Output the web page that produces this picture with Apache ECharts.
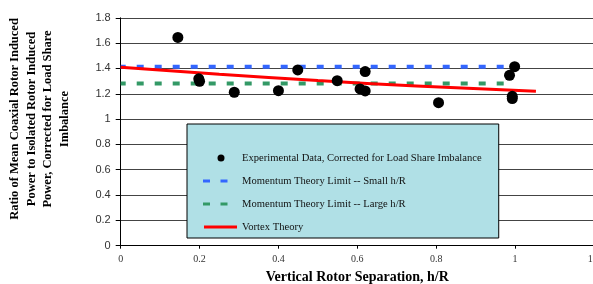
<!DOCTYPE html>
<html>
<head>
<meta charset="utf-8">
<script src="https://cdn.jsdelivr.net/npm/echarts@6/dist/echarts.min.js"></script>
<style>
  html, body { margin: 0; padding: 0; background: #fff; }
</style>
</head>
<body>
<div id="chart" style="width: 593px; height: 284px;"></div>
<script>
// experimental points (h/R, power ratio)
const expX = [0.145, 0.198, 0.2, 0.288, 0.40, 0.449, 0.549, 0.607, 0.62, 0.62, 0.806, 0.986, 0.999, 0.993, 0.993];
const expY = [1.645, 1.318, 1.298, 1.212, 1.224, 1.388, 1.303, 1.238, 1.222, 1.375, 1.13, 1.346, 1.414, 1.18, 1.162];

// momentum theory limits
const limitX = [0, 0.987];
const smallLimit = [1.414, 1.414];
const largeLimit = [1.281, 1.281];

// vortex theory curve
const vortexX = [0, 0.25, 0.5, 0.75, 1.053];
const vortexY = [1.41, 1.355, 1.305, 1.262, 1.22];

const names = [
  'Experimental Data, Corrected for Load Share Imbalance',
  'Momentum Theory Limit -- Small h/R',
  'Momentum Theory Limit -- Large h/R',
  'Vortex Theory'
];

const serif = '"Liberation Serif", "DejaVu Serif", serif';

const zip = (xs, ys) => xs.map((x, i) => [x, ys[i]]);

// legend icons span 34x7 (moveTo corners keep the box size)
const dashIcon = 'path://M0,0M34,7M0,2H7V5H0ZM17.5,2H24.5V5H17.5Z';
const lineIcon = 'path://M0,0M34,7M1,2H34V5H1Z';
const dotIcon = 'path://M0,0M34,7M14.5,3.5A3.5,3.5,0,1,1,21.5,3.5A3.5,3.5,0,1,1,14.5,3.5Z';

const myChart = echarts.init(document.getElementById('chart'));

const option = {
  animation: false,
  grid: {
    left: 120.7,
    top: 17.8,
    width: 473.2,
    height: 227.9,
    containLabel: false,
    outerBoundsMode: 'none'
  },
  xAxis: {
    type: 'value',
    min: 0,
    max: 1.2,
    interval: 0.2,
    name: 'Vertical Rotor Separation, h/R',
    nameLocation: 'middle',
    nameGap: 25,
    nameTextStyle: {
      fontFamily: serif,
      fontWeight: 'bold',
      fontSize: 14,
      color: '#000'
    },
    axisLine: { onZero: false, lineStyle: { color: '#000', width: 1 } },
    axisTick: { length: 3, lineStyle: { color: '#000' } },
    axisLabel: {
      fontFamily: serif,
      fontSize: 10,
      color: '#333',
      margin: 9
    },
    splitLine: { show: false }
  },
  yAxis: {
    type: 'value',
    min: 0,
    max: 1.8,
    interval: 0.2,
    axisLine: { show: true, lineStyle: { color: '#000', width: 1 } },
    axisTick: { show: true, length: 5, lineStyle: { color: '#000' } },
    axisLabel: {
      fontFamily: '"Liberation Sans", Arial, sans-serif',
      fontSize: 11,
      color: '#333',
      margin: 10
    },
    splitLine: { show: true, lineStyle: { color: '#444', width: 1 } }
  },
  legend: {
    left: 187,
    top: 124,
    orient: 'vertical',
    backgroundColor: '#b0e0e6',
    borderColor: '#000',
    borderWidth: 1,
    borderRadius: 0,
    padding: [27, 17, 4, 16],
    itemGap: 9,
    itemWidth: 34,
    itemHeight: 7,
    itemStyle: { borderWidth: 0 },
    textStyle: {
      fontFamily: serif,
      fontSize: 10.6,
      color: '#111',
      lineHeight: 14
    },
    data: [
      { name: names[0], icon: dotIcon },
      { name: names[1], icon: dashIcon },
      { name: names[2], icon: dashIcon },
      { name: names[3], icon: lineIcon }
    ]
  },
  graphic: [
    {
      type: 'text',
      x: 40,
      y: 119,
      rotation: Math.PI / 2,
      style: {
        text: 'Ratio of Mean Coaxial Rotor Induced\nPower to Isolated Rotor Induced\nPower, Corrected for Load Share\nImbalance',
        font: 'bold 12.5px ' + serif,
        fill: '#000',
        align: 'center',
        verticalAlign: 'middle',
        lineHeight: 16.5
      }
    }
  ],
  series: [
    {
      name: names[1],
      type: 'line',
      data: zip(limitX, smallLimit),
      symbol: 'none',
      color: '#3366ff',
      lineStyle: { color: '#3366ff', width: 4, type: [7, 11], dashOffset: 2 },
      z: 3
    },
    {
      name: names[2],
      type: 'line',
      data: zip(limitX, largeLimit),
      symbol: 'none',
      color: '#339966',
      lineStyle: { color: '#339966', width: 4, type: [7, 11], dashOffset: 2 },
      z: 3
    },
    {
      name: names[3],
      type: 'line',
      data: zip(vortexX, vortexY),
      smooth: true,
      symbol: 'none',
      color: '#ff0000',
      lineStyle: { color: '#ff0000', width: 3 },
      z: 4
    },
    {
      name: names[0],
      type: 'scatter',
      data: zip(expX, expY),
      symbol: 'circle',
      symbolSize: 11,
      color: '#000',
      itemStyle: { color: '#000', opacity: 1 },
      z: 5
    }
  ]
};

myChart.setOption(option);
</script>
</body>
</html>
